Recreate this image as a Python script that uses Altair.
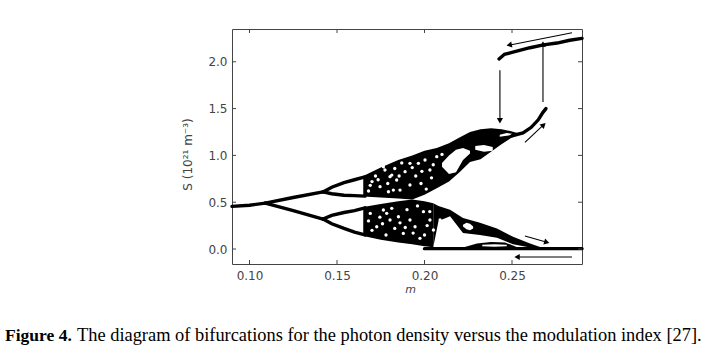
import altair as alt
import pandas as pd

# ---------------- data ----------------
x_ticks = [0.10, 0.15, 0.20, 0.25]
y_ticks = [0.0, 0.5, 1.0, 1.5, 2.0]

# periodic branches (m, S)
p1_m = [0.090, 0.100, 0.109]
p1_S = [0.455, 0.468, 0.490]
p2_m = [0.109, 0.125, 0.142]
p2u_S = [0.490, 0.550, 0.610]
p2l_S = [0.490, 0.410, 0.320]
p4_m = [0.142, 0.147, 0.154, 0.160, 0.166]
p4a_S = [0.610, 0.660, 0.710, 0.740, 0.770]
p4b_S = [0.610, 0.590, 0.575, 0.570, 0.565]
p4c_S = [0.320, 0.360, 0.390, 0.410, 0.440]
p4d_S = [0.320, 0.270, 0.220, 0.180, 0.150]
# branch rising towards the jump
c_m = [0.250, 0.2563, 0.261, 0.265, 0.2677, 0.2694]
c_S = [1.21, 1.24, 1.30, 1.38, 1.46, 1.50]
# upper attractor
f_m = [0.2426, 0.2457, 0.2500, 0.2603, 0.2680, 0.2757, 0.2830, 0.2900]
f_S = [2.03, 2.08, 2.10, 2.15, 2.18, 2.20, 2.23, 2.25]
# zero branch
e_m = [0.200, 0.290]
e_S = [0.004, 0.004]

# chaotic bands (black): m, upper edge, lower edge
ua_m = [0.165, 0.175, 0.185, 0.193, 0.200, 0.207, 0.214, 0.220, 0.226, 0.232, 0.238, 0.244, 0.249, 0.253]
ua_top = [0.78, 0.87, 0.95, 1.00, 1.05, 1.08, 1.13, 1.19, 1.25, 1.28, 1.29, 1.28, 1.26, 1.24]
ua_bot = [0.56, 0.55, 0.54, 0.53, 0.58, 0.65, 0.72, 0.82, 0.93, 0.96, 1.04, 1.12, 1.18, 1.22]
ld_m = [0.165, 0.175, 0.185, 0.193, 0.200, 0.205]
ld_top = [0.45, 0.48, 0.51, 0.53, 0.51, 0.49]
ld_bot = [0.14, 0.10, 0.07, 0.05, 0.03, 0.02]
st_m = [0.205, 0.208, 0.2146, 0.222, 0.2317, 0.2414, 0.2506, 0.2603, 0.2677]
st_top = [0.49, 0.46, 0.42, 0.33, 0.28, 0.22, 0.13, 0.06, 0.012]
st_bot = [0.02, 0.30, 0.35, 0.17, 0.15, 0.12, 0.05, 0.015, 0.005]
ln_m = [0.222, 0.230, 0.238, 0.246, 0.253]
ln_top = [0.015, 0.060, 0.075, 0.070, 0.020]
ln_bot = [0.0, 0.0, 0.0, 0.0, 0.0]

# white windows inside the bands
h1_m = [0.2220, 0.2240, 0.2260, 0.2278]
h1_top = [0.26, 0.28, 0.27, 0.24]
h1_bot = [0.24, 0.21, 0.20, 0.22]
h2_m = [0.233, 0.240, 0.247]
h2_top = [0.045, 0.050, 0.045]
h2_bot = [0.030, 0.025, 0.030]
h3_m = [0.210, 0.214, 0.218, 0.222, 0.226]
h3_top = [0.92, 1.00, 1.06, 1.08, 1.05]
h3_bot = [0.88, 0.80, 0.82, 0.95, 1.02]
h4_m = [0.229, 0.234, 0.239]
h4_top = [1.10, 1.11, 1.09]
h4_bot = [1.06, 1.04, 1.05]
h5_m = [0.243, 0.247, 0.250]
h5_top = [1.22, 1.24, 1.23]
h5_bot = [1.20, 1.21, 1.22]

# white specks in the chaotic bands
sp_m = [0.1774, 0.1813, 0.1841, 0.1889, 0.1917, 0.1965, 0.2003, 0.2031, 0.2070,
        0.1917, 0.1746, 0.1794, 0.1860, 0.1765, 0.1803, 0.1822,
        0.1700, 0.1720, 0.1830, 0.1870, 0.1950, 0.1980, 0.2010, 0.2050, 0.2100,
        0.1680, 0.1690, 0.1735, 0.1790, 0.1855, 0.1930, 0.1985, 0.2040,
        0.1784, 0.1813, 0.1851, 0.1917, 0.1946, 0.1994, 0.2031, 0.2051,
        0.1727, 0.1879, 0.1974, 0.2089, 0.1765, 0.1803, 0.1700,
        0.1680, 0.1760, 0.1830, 0.1900, 0.1960, 0.2000, 0.2030, 0.1780,
        0.1690, 0.1745, 0.1860, 0.1890, 0.1935, 0.2015]
sp_S = [0.844, 0.790, 0.737, 0.826, 0.684, 0.915, 0.951, 0.844, 0.986,
        0.915, 0.666, 0.612, 0.630, 0.879, 0.773, 0.630,
        0.720, 0.780, 0.860, 0.920, 0.780, 0.700, 0.640, 0.900, 1.010,
        0.620, 0.680, 0.740, 0.700, 0.780, 0.870, 0.830, 0.760,
        0.381, 0.435, 0.345, 0.310, 0.238, 0.399, 0.310, 0.203,
        0.238, 0.167, 0.114, 0.310, 0.417, 0.310, 0.200,
        0.300, 0.270, 0.220, 0.420, 0.460, 0.150, 0.400, 0.150,
        0.380, 0.340, 0.280, 0.230, 0.170, 0.250]

# arrows: start, end, head angle
ar_m0 = [0.2431, 0.2677, 0.2843, 0.2574, 0.2574, 0.2843]
ar_S0 = [1.91, 1.57, 2.31, 1.14, 0.139, -0.085]
ar_m1 = [0.2431, 0.2677, 0.2489, 0.2677, 0.2694, 0.2534]
ar_S1 = [1.38, 2.18, 2.18, 1.32, 0.075, -0.085]
ar_ang = [180, 0, 259, 47, 106, 270]

caption_bold = "Figure 4."
caption_rest = "The diagram of bifurcations for the photon density versus the modulation index [27]."
x_title = "m"
y_title = "S (10²¹ m⁻³)"

# ---------------- tables ----------------
def line_df(name, ms, ss):
    return pd.DataFrame({"m": ms, "S": ss, "seg": name})

lines = pd.concat([
    line_df("p1", p1_m, p1_S),
    line_df("p2u", p2_m, p2u_S),
    line_df("p2l", p2_m, p2l_S),
    line_df("p4a", p4_m, p4a_S),
    line_df("p4b", p4_m, p4b_S),
    line_df("p4c", p4_m, p4c_S),
    line_df("p4d", p4_m, p4d_S),
    line_df("c", c_m, c_S),
    line_df("f", f_m, f_S),
    line_df("e", e_m, e_S),
])

def area_df(name, ms, top, bot):
    return pd.DataFrame({"m": ms, "top": top, "bot": bot, "part": name})

black = pd.concat([
    area_df("ua", ua_m, ua_top, ua_bot),
    area_df("ld", ld_m, ld_top, ld_bot),
    area_df("st", st_m, st_top, st_bot),
    area_df("ln", ln_m, ln_top, ln_bot),
])
white = pd.concat([
    area_df("h1", h1_m, h1_top, h1_bot),
    area_df("h2", h2_m, h2_top, h2_bot),
    area_df("h3", h3_m, h3_top, h3_bot),
    area_df("h4", h4_m, h4_top, h4_bot),
    area_df("h5", h5_m, h5_top, h5_bot),
])
specks = pd.DataFrame({"m": sp_m, "S": sp_S})
arrows = pd.DataFrame({"m0": ar_m0, "S0": ar_S0, "m1": ar_m1, "S1": ar_S1, "ang": ar_ang})
xt = pd.DataFrame({"v": x_ticks})
yt = pd.DataFrame({"v": y_ticks})

W, H = 350, 235
xs = alt.Scale(domain=[0.09, 0.29], nice=False, zero=False)
ys = alt.Scale(domain=[-0.16, 2.35], nice=False, zero=False)
AX = "#444444"

x_axis = alt.Axis(values=x_ticks, format=".2f", grid=False, domain=False, ticks=False,
                  labelFont="DejaVu Sans", labelFontSize=12, labelColor=AX, labelPadding=6,
                  title=x_title, titleFont="DejaVu Sans", titleFontSize=11, titleFontStyle="italic",
                  titleFontWeight="normal", titleColor=AX, titleX=178, titleY=28,
                  titleBaseline="alphabetic")
y_axis = alt.Axis(values=y_ticks, format=".1f", grid=False, domain=False, ticks=False,
                  labelFont="DejaVu Sans", labelFontSize=12, labelColor=AX, labelPadding=5,
                  title=y_title, titleFont="DejaVu Sans", titleFontSize=12,
                  titleFontWeight="normal", titleColor=AX, titleAngle=270,
                  titleX=-38, titleY=125, titleAlign="center", titleBaseline="bottom")


def X(field):
    return alt.X(field, scale=xs, axis=x_axis)


def Y(field):
    return alt.Y(field, scale=ys, axis=y_axis)


band_black = alt.Chart(black).mark_area(color="black", opacity=1, interpolate="linear").encode(
    x=X("m:Q"), y=Y("top:Q"), y2="bot:Q", detail="part:N")
band_white = alt.Chart(white).mark_area(color="white", opacity=1, interpolate="linear").encode(
    x=X("m:Q"), y=Y("top:Q"), y2="bot:Q", detail="part:N")
branch = alt.Chart(lines).mark_line(color="black", strokeWidth=3.4, strokeCap="round").encode(
    x=X("m:Q"), y=Y("S:Q"), detail="seg:N")
speck = alt.Chart(specks).mark_circle(color="white", size=11, opacity=1).encode(
    x=X("m:Q"), y=Y("S:Q"))
arrow_body = alt.Chart(arrows).mark_rule(color="black", strokeWidth=1.1).encode(
    x=X("m0:Q"), y=Y("S0:Q"), x2="m1:Q", y2="S1:Q")
arrow_head = alt.Chart(arrows).mark_point(shape="triangle", filled=True, color="black",
                                          size=38, opacity=1).encode(
    x=X("m1:Q"), y=Y("S1:Q"), angle=alt.Angle("ang:Q", scale=None))
tick_b = alt.Chart(xt).mark_rule(color=AX).encode(
    x=X("v:Q"), y=alt.value(H), y2=alt.value(H - 4))
tick_t = alt.Chart(xt).mark_rule(color=AX).encode(
    x=X("v:Q"), y=alt.value(0), y2=alt.value(4))
tick_l = alt.Chart(yt).mark_rule(color=AX).encode(
    y=Y("v:Q"), x=alt.value(0), x2=alt.value(4))
tick_r = alt.Chart(yt).mark_rule(color=AX).encode(
    y=Y("v:Q"), x=alt.value(W), x2=alt.value(W - 4))

cap1 = alt.Chart(pd.DataFrame({"t": [caption_bold]})).mark_text(
    font="Liberation Serif", fontSize=17.5, fontWeight="bold", align="left",
    baseline="alphabetic", color="black").encode(
    text="t:N", x=alt.value(-227), y=alt.value(312))
cap2 = alt.Chart(pd.DataFrame({"t": [caption_rest]})).mark_text(
    font="Liberation Serif", fontSize=18.4, align="left",
    baseline="alphabetic", color="black").encode(
    text="t:N", x=alt.value(-155), y=alt.value(312))

chart = alt.layer(
    band_black, band_white, speck, branch, arrow_body, arrow_head,
    tick_b, tick_t, tick_l, tick_r, cap1, cap2,
).properties(
    width=W, height=H,
    autosize=alt.AutoSizeParams(type="none"),
    padding={"left": 232, "top": 29, "right": 133, "bottom": 94},
    background="white",
).configure_view(stroke=AX, strokeWidth=1)

chart.save("out.html", embed_options={"renderer": "svg", "actions": False})
